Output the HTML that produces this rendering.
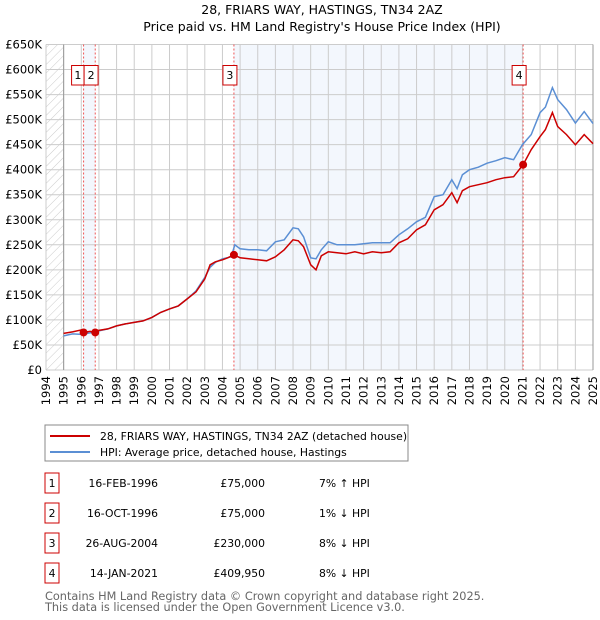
<!DOCTYPE html>
<html><head><meta charset="utf-8"><style>
body{margin:0;background:#fff;font-family:"DejaVu Sans","Liberation Sans",sans-serif;}
#wrap{position:relative;width:600px;height:620px;overflow:hidden;}
svg text{font-family:"DejaVu Sans","Liberation Sans",sans-serif;}
</style></head><body>
<div id="wrap">
<svg id="chart" width="600" height="620">
<defs><pattern id="hatch" width="6" height="6" patternUnits="userSpaceOnUse" patternTransform="rotate(45)"><line x1="0" y1="0" x2="0" y2="6" stroke="#ccc" stroke-width="1"/></pattern></defs>
<text x="322" y="14" text-anchor="middle" font-size="12.5">28, FRIARS WAY, HASTINGS, TN34 2AZ</text>
<text x="322" y="31" text-anchor="middle" font-size="12.5">Price paid vs. HM Land Registry's House Price Index (HPI)</text>
<g id="plot"></g>
<rect x="45" y="425" width="363" height="36" fill="#fff" stroke="#888"/>
<line x1="50" y1="436" x2="90" y2="436" stroke="#cc0000" stroke-width="2"/>
<text x="100" y="440" font-size="10.8">28, FRIARS WAY, HASTINGS, TN34 2AZ (detached house)</text>
<line x1="50" y1="452" x2="90" y2="452" stroke="#5b8fd4" stroke-width="2"/>
<text x="100" y="456" font-size="10.8">HPI: Average price, detached house, Hastings</text>
<g id="table" font-size="10.8"></g>
<text x="45" y="600" font-size="11.3" fill="#666">Contains HM Land Registry data © Crown copyright and database right 2025.</text>
<text x="45" y="611" font-size="11.3" fill="#666">This data is licensed under the Open Government Licence v3.0.</text>
</svg>
</div>
<script>
const hpiYears=[1995,1995.5,1996,1996.5,1997,1997.5,1998,1998.5,1999,1999.5,2000,2000.5,2001,2001.5,2002,2002.5,2003,2003.3,2003.6,2004,2004.5,2004.7,2005,2005.5,2006,2006.5,2007,2007.5,2008,2008.3,2008.6,2009,2009.3,2009.6,2010,2010.5,2011,2011.5,2012,2012.5,2013,2013.5,2014,2014.5,2015,2015.5,2016,2016.5,2017,2017.3,2017.6,2018,2018.5,2019,2019.5,2020,2020.5,2021,2021.5,2022,2022.3,2022.7,2023,2023.5,2024,2024.5,2025];
const hpiValues=[68,72,71,74,78,82,88,92,95,98,105,115,122,128,142,158,185,205,215,222,226,250,242,240,240,238,256,260,284,282,266,224,222,240,256,250,250,250,252,254,254,254,270,282,296,305,346,350,380,362,390,400,405,413,418,424,420,450,470,514,525,564,540,520,493,516,492];
const priceYears=[1995,1995.5,1996,1996.13,1996.5,1996.79,1997,1997.5,1998,1998.5,1999,1999.5,2000,2000.5,2001,2001.5,2002,2002.5,2003,2003.3,2003.6,2004,2004.3,2004.65,2005,2005.5,2006,2006.5,2007,2007.5,2008,2008.3,2008.6,2009,2009.3,2009.6,2010,2010.5,2011,2011.5,2012,2012.5,2013,2013.5,2014,2014.5,2015,2015.5,2016,2016.5,2017,2017.3,2017.6,2018,2018.5,2019,2019.5,2020,2020.5,2021.04,2021.5,2022,2022.3,2022.7,2023,2023.5,2024,2024.5,2025];
const priceValues=[73,76,80,75,77,75,79,82,88,92,95,98,105,115,122,128,142,156,182,210,216,220,224,230,224,222,220,218,226,240,260,258,246,210,200,228,236,234,232,236,232,236,234,236,254,262,280,290,320,330,354,334,358,366,370,374,380,384,386,410,440,466,480,514,486,470,450,470,452];
const sales=[{n:"1",t:1996.13,v:75,date:"16-FEB-1996",price:"£75,000",hpi:"7% ↑ HPI"},{n:"2",t:1996.79,v:75,date:"16-OCT-1996",price:"£75,000",hpi:"1% ↓ HPI"},{n:"3",t:2004.65,v:230,date:"26-AUG-2004",price:"£230,000",hpi:"8% ↓ HPI"},{n:"4",t:2021.04,v:409.95,date:"14-JAN-2021",price:"£409,950",hpi:"8% ↓ HPI"}];
const yTicks=[0,50,100,150,200,250,300,350,400,450,500,550,600,650];
const yTickLabels=["£0","£50K","£100K","£150K","£200K","£250K","£300K","£350K","£400K","£450K","£500K","£550K","£600K","£650K"];
const xTicks=[1994,1995,1996,1997,1998,1999,2000,2001,2002,2003,2004,2005,2006,2007,2008,2009,2010,2011,2012,2013,2014,2015,2016,2017,2018,2019,2020,2021,2022,2023,2024,2025];

const L=46,R=593,T=44.5,B=370;
const X=t=>L+(t-1994)/(2025-1994)*(R-L);
const Y=v=>B-v/650*(B-T);
const NS="http://www.w3.org/2000/svg";
const plot=document.getElementById('plot');
function mk(tag,attrs,parent){const e=document.createElementNS(NS,tag);for(const k in attrs)e.setAttribute(k,attrs[k]);(parent||plot).appendChild(e);return e;}
let e;
e=mk('rect',{x:L,y:T,width:X(1995)-L,height:B-T,fill:'url(#hatch)'});


e=mk('rect',{x:X(sales[0].t),y:T,width:X(sales[1].t)-X(sales[0].t),height:B-T,fill:'#eef3fc',opacity:0.7});


e=mk('rect',{x:X(sales[2].t),y:T,width:X(sales[3].t)-X(sales[2].t),height:B-T,fill:'#eef3fc',opacity:0.7});


yTicks.forEach((v,i)=>{
 e=mk('line',{x1:L,x2:R,y1:Y(v),y2:Y(v),stroke:'#ccc','stroke-width':1});
 
 
 e=mk('text',{x:L-4,y:Y(v)+4,'text-anchor':'end','font-size':11.5});
 e.textContent=yTickLabels[i];
 
 
});
xTicks.forEach(t=>{
 e=mk('line',{x1:X(t),x2:X(t),y1:T,y2:B,stroke:'#ccc','stroke-width':1});
 
 
 e=mk('text',{x:0,y:0,'text-anchor':'end','font-size':11.5,transform:`translate(${X(t)+4},${B+6}) rotate(-90)`});
 e.textContent=t;
 
 
});
e=mk('line',{x1:X(1995),x2:X(1995),y1:T,y2:B,stroke:'#999'});


e=mk('line',{x1:R,x2:R,y1:T,y2:B,stroke:'#999'});


sales.forEach(s=>{
 e=mk('line',{x1:X(s.t),x2:X(s.t),y1:T,y2:B,stroke:'#ee5555','stroke-dasharray':'2,2'});
 
 
});
function path(xs,vs){return xs.map((t,i)=>(i?'L':'M')+X(t).toFixed(1)+','+Y(vs[i]).toFixed(1)).join('');}
e=mk('path',{d:path(hpiYears,hpiValues),fill:'none',stroke:'#5b8fd4','stroke-width':1.5});


e=mk('path',{d:path(priceYears,priceValues),fill:'none',stroke:'#cc0000','stroke-width':1.5});


sales.forEach((s,i)=>{
 e=mk('circle',{cx:X(s.t),cy:Y(s.v),r:4,fill:'#cc0000'});
 
 
 let bx,bw=14;
 if(i===0){bx=X(s.t)-12;bw=12.5;}else if(i===1){bx=X(sales[0].t)+0.5;}else{bx=X(s.t)-11;}
 e=mk('rect',{x:bx,y:65.5,width:bw,height:19.5,fill:'#fff',stroke:'#cc0000'});
 
 
 e=mk('text',{x:bx+bw/2,y:79,'text-anchor':'middle','font-size':11});
 e.textContent=s.n;
 
 
});
const tbl=document.getElementById('table');
sales.forEach((s,i)=>{
 const y=483+i*30;
 e=mk('rect',{x:45,y:y-10,width:14,height:20,fill:'#fff',stroke:'#cc0000'},tbl);
 
 
 e=mk('text',{x:52,y:y+4,'text-anchor':'middle'},tbl);e.textContent=s.n;
 
 
 e=mk('text',{x:158,y:y+4,'text-anchor':'end'},tbl);e.textContent=s.date;
 
 
 e=mk('text',{x:265,y:y+4,'text-anchor':'end'},tbl);e.textContent=s.price;
 
 
 e=mk('text',{x:319,y:y+4},tbl);e.textContent=s.hpi;
 
 
});
</script>
</body></html>
